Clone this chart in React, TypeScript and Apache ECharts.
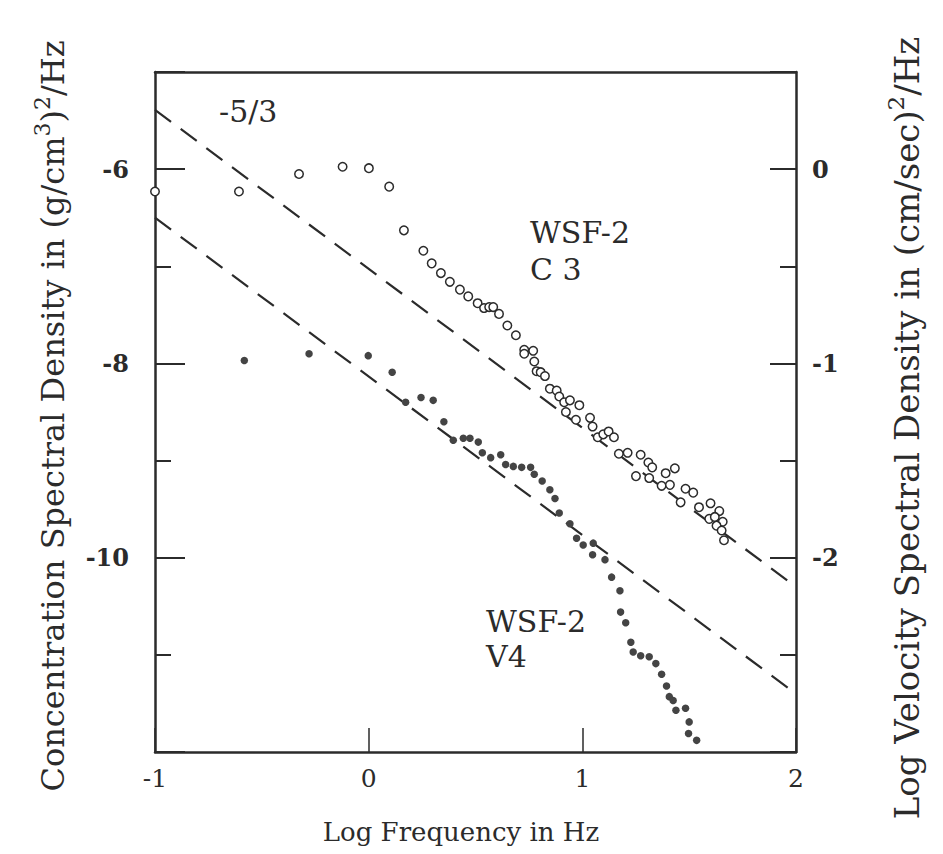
import React, { useEffect, useRef } from "react";
import * as echarts from "echarts";

// Log frequency (x) and log concentration spectral density (left-axis units)
const c3X = [-1.0, -0.607, -0.326, -0.122, 0.001, 0.096, 0.165, 0.256, 0.295, 0.338, 0.38, 0.427, 0.466, 0.51, 0.54, 0.564, 0.583, 0.61, 0.649, 0.689, 0.728, 0.728, 0.77, 0.775, 0.786, 0.805, 0.825, 0.848, 0.88, 0.892, 0.915, 0.942, 0.986, 0.923, 0.97, 1.036, 1.048, 1.072, 1.098, 1.123, 1.148, 1.171, 1.212, 1.273, 1.309, 1.327, 1.39, 1.433, 1.251, 1.313, 1.371, 1.41, 1.483, 1.519, 1.46, 1.546, 1.6, 1.641, 1.594, 1.62, 1.657, 1.628, 1.652, 1.663];
const c3Y = [-6.23, -6.23, -6.05, -5.975, -5.99, -6.18, -6.63, -6.84, -6.97, -7.07, -7.16, -7.24, -7.31, -7.38, -7.43, -7.42, -7.42, -7.49, -7.61, -7.71, -7.86, -7.9, -7.87, -7.98, -8.08, -8.09, -8.13, -8.26, -8.28, -8.34, -8.4, -8.38, -8.43, -8.5, -8.58, -8.56, -8.65, -8.76, -8.73, -8.7, -8.76, -8.93, -8.92, -8.94, -9.02, -9.07, -9.13, -9.08, -9.16, -9.18, -9.26, -9.25, -9.29, -9.33, -9.43, -9.48, -9.44, -9.52, -9.6, -9.58, -9.63, -9.67, -9.72, -9.82];

const v4X = [-0.582, -0.279, -0.002, 0.11, 0.173, 0.245, 0.302, 0.352, 0.396, 0.443, 0.474, 0.513, 0.532, 0.571, 0.618, 0.641, 0.677, 0.716, 0.758, 0.775, 0.812, 0.848, 0.872, 0.892, 0.942, 0.973, 1.004, 1.051, 1.048, 1.106, 1.137, 1.176, 1.179, 1.203, 1.227, 1.238, 1.273, 1.313, 1.344, 1.371, 1.394, 1.407, 1.425, 1.438, 1.483, 1.5, 1.497, 1.535];
const v4Y = [-7.97, -7.9, -7.92, -8.09, -8.4, -8.35, -8.38, -8.6, -8.79, -8.77, -8.77, -8.81, -8.92, -8.97, -8.94, -9.04, -9.06, -9.07, -9.07, -9.14, -9.21, -9.3, -9.39, -9.54, -9.65, -9.8, -9.87, -9.85, -9.97, -10.02, -10.2, -10.34, -10.56, -10.67, -10.87, -10.97, -11.01, -11.02, -11.09, -11.2, -11.32, -11.43, -11.47, -11.57, -11.55, -11.69, -11.81, -11.88];

// -5/3 reference lines (endpoints)
const upperLineX = [-1, 2];
const upperLineY = [-5.39, -10.3];
const lowerLineX = [-1, 2];
const lowerLineY = [-6.5, -11.4];

const xTicks = [-1, 0, 1, 2];
const leftTickLabels = [-6, -8, -10];
const rightTickLabels = [0, -1, -2];

const SERIF = "'DejaVu Serif', 'Liberation Serif', serif";
const INK = "#2b2b2b";

const zip = (xs: number[], ys: number[]) => xs.map((x, i) => [x, ys[i]]);

export default function App() {
  const ref = useRef<HTMLDivElement>(null);
  useEffect(() => {
    if (!ref.current) return;
    const chart = echarts.init(ref.current, null, { renderer: "svg" });
    const axisLine = { show: true, onZero: false, lineStyle: { color: INK, width: 2.5 } };
    const titleRich = (size: number) => ({
      n: { fontFamily: SERIF, fontSize: size, lineHeight: size + 6, verticalAlign: "bottom", fill: INK },
      s: { fontFamily: SERIF, fontSize: Math.round(size * 0.68), lineHeight: 20, verticalAlign: "top", fill: INK },
    });
    const option: any = {
      animation: false,
      backgroundColor: "#fff",
      grid: { left: 155, top: 72, width: 641, height: 680, containLabel: false },
      xAxis: [
        {
          type: "value",
          min: -1,
          max: 2,
          interval: 1,
          axisLine,
          splitLine: { show: false },
          axisTick: { show: true, inside: true, length: 24, lineStyle: { color: INK, width: 1.5 } },
          axisLabel: {
            fontFamily: SERIF,
            fontSize: 25,
            color: INK,
            margin: 14,
            formatter: (v: number) => (xTicks.includes(v) ? String(v) : ""),
          },
        },
        {
          type: "value",
          position: "top",
          min: -1,
          max: 2,
          interval: 1,
          axisLine,
          axisTick: { show: false },
          axisLabel: { show: false },
          splitLine: { show: false },
        },
      ],
      yAxis: [
        {
          type: "value",
          min: -12,
          max: -5,
          interval: 2,
          axisLine,
          splitLine: { show: false },
          axisTick: { show: true, inside: true, length: 30, lineStyle: { color: INK, width: 2 } },
          minorTick: { show: true, splitNumber: 2, length: 16, lineStyle: { color: INK, width: 2 } },
          minorSplitLine: { show: false },
          axisLabel: {
            fontFamily: SERIF,
            fontWeight: "bold",
            fontSize: 24,
            color: INK,
            margin: 26,
            formatter: (v: number) => (leftTickLabels.includes(v) ? String(v) : ""),
          },
        },
        {
          type: "value",
          position: "right",
          min: -3,
          max: 0.5,
          interval: 1,
          axisLine,
          splitLine: { show: false },
          axisTick: { show: true, inside: true, length: 26, lineStyle: { color: INK, width: 2 } },
          minorTick: { show: true, splitNumber: 2, length: 16, lineStyle: { color: INK, width: 2 } },
          minorSplitLine: { show: false },
          axisLabel: {
            fontFamily: SERIF,
            fontWeight: "bold",
            fontSize: 24,
            color: INK,
            margin: 16,
            formatter: (v: number) => (rightTickLabels.includes(v) ? String(v) : ""),
          },
        },
      ],
      series: [
        {
          type: "line",
          data: zip(upperLineX, upperLineY),
          symbol: "none",
          lineStyle: { color: INK, width: 2.2, type: [20, 12] },
          silent: true,
        },
        {
          type: "line",
          data: zip(lowerLineX, lowerLineY),
          symbol: "none",
          lineStyle: { color: INK, width: 2.2, type: [20, 12] },
          silent: true,
        },
        {
          name: "WSF-2 C3",
          type: "scatter",
          data: zip(c3X, c3Y),
          symbol: "circle",
          symbolSize: 8.5,
          itemStyle: { color: "#fff", borderColor: INK, borderWidth: 1.5, opacity: 1 },
          z: 5,
        },
        {
          name: "WSF-2 V4",
          type: "scatter",
          data: zip(v4X, v4Y),
          symbol: "circle",
          symbolSize: 7.5,
          itemStyle: { color: "#444", opacity: 1 },
          z: 5,
        },
      ],
      graphic: [
        {
          type: "text",
          left: 219,
          top: 96,
          style: { text: "-5/3", font: `30px ${SERIF}`, fill: INK },
        },
        {
          type: "text",
          left: 530,
          top: 214,
          style: { text: "WSF-2\nC 3", font: `30px ${SERIF}`, fill: INK, lineHeight: 37 },
        },
        {
          type: "text",
          left: 486,
          top: 604,
          style: { text: "WSF-2\nV4", font: `30px ${SERIF}`, fill: INK, lineHeight: 35 },
        },
        {
          type: "text",
          x: 461,
          y: 832,
          style: {
            text: "Log Frequency in Hz",
            font: `26px ${SERIF}`,
            fill: INK,
            align: "center",
            verticalAlign: "middle",
          },
        },
        {
          type: "text",
          x: 50,
          y: 416,
          rotation: Math.PI / 2,
          style: {
            text: "{n|Concentration Spectral Density in (g/cm}{s|3}{n|)}{s|2}{n|/Hz}",
            align: "center",
            verticalAlign: "middle",
            fill: INK,
            rich: titleRich(32),
          },
        },
        {
          type: "text",
          x: 904,
          y: 428,
          rotation: Math.PI / 2,
          style: {
            text: "{n|Log Velocity Spectral Density in (cm/sec)}{s|2}{n|/Hz}",
            align: "center",
            verticalAlign: "middle",
            fill: INK,
            rich: titleRich(34),
          },
        },
      ],
    };
    chart.setOption(option);
    return () => chart.dispose();
  }, []);
  return (
    <div
      ref={ref}
      style={{ position: "fixed", left: 0, top: 0, width: 943, height: 854 }}
    />
  );
}
